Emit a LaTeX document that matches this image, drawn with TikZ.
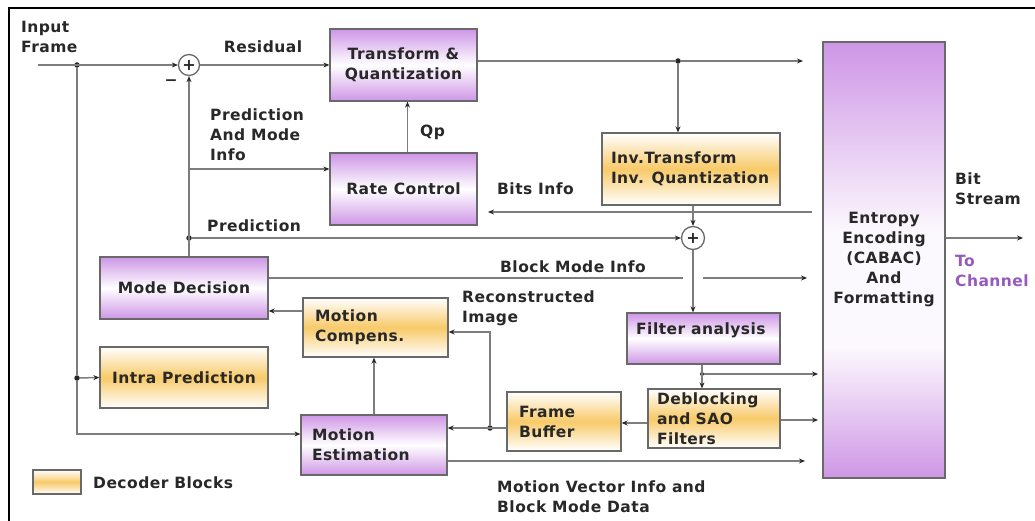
\documentclass[tikz,border=0pt]{standalone}
\usepackage{fontspec}
\setmainfont{DejaVu Sans}[LetterSpace=3]
\usetikzlibrary{arrows.meta,shadings,calc}
\definecolor{purp}{RGB}{206,150,230}
\definecolor{orng}{RGB}{248,202,105}
\definecolor{edge}{RGB}{105,105,105}
\definecolor{wirec}{RGB}{125,125,125}
\definecolor{ink}{RGB}{40,40,40}
\definecolor{chan}{RGB}{150,90,190}
% tall entropy block: purple ends with a wide pale band in the middle
% (the path is mapped onto 25bp..75bp of the shading, bottom to top)
\pgfdeclareverticalshading{entshade}{100bp}{color(0bp)=(purp); color(25bp)=(purp); color(40bp)=(purp!6!white); color(53bp)=(purp!6!white); color(75bp)=(purp); color(100bp)=(purp)}
\begin{document}
\begin{tikzpicture}[x=1pt,y=-1pt,
  txt/.style={font=\bfseries\fontsize{15.5}{20}\selectfont, text=ink, inner sep=0pt},
  encbox/.style={draw=edge, line width=1.3pt, rectangle, top color=purp, bottom color=purp, middle color=white, inner sep=0pt},
  decbox/.style={draw=edge, line width=1.3pt, rectangle, top color=white, bottom color=white, middle color=orng, inner sep=0pt},
  wire/.style={draw=wirec, line width=1.5pt},
  arr/.style={wire, -{Stealth[length=6pt,width=5pt,color=ink]}},
  jdot/.style={circle, fill=ink, inner sep=0pt, minimum size=5.5pt},
  sumnode/.style={circle, draw=edge, line width=1.3pt, fill=white, inner sep=0pt, font=\bfseries\fontsize{16}{16}\selectfont, text=ink}
]
\useasboundingbox (0,0) rectangle (1035,521);
% outer frame (top and left edges)
\draw[black, line width=2pt] (9,521) -- (9,8) -- (1035,8);

% ---- blocks ----
\node[encbox, txt, minimum width=147pt, minimum height=72pt, align=center] (tq) at (403.5,65) {Transform \&\\Quantization};
\node[encbox, txt, minimum width=147pt, minimum height=72pt] (rc) at (403.5,189) {Rate Control};
\node[decbox, txt, minimum width=178pt, minimum height=72pt, text width=160pt, align=left] (inv) at (691,169) {Inv.Transform\\Inv. Quantization};
\node[encbox, txt, minimum width=168pt, minimum height=62pt] (md) at (184,288) {Mode Decision};
\node[decbox, txt, minimum width=168pt, minimum height=61pt] (ip) at (184,377.5) {Intra Prediction};
\node[decbox, txt, minimum width=145pt, minimum height=59pt, text width=121pt, align=left] (mc) at (375.5,327.5) {Motion\\Compens.};
\node[encbox, txt, minimum width=146pt, minimum height=60pt, text width=124pt, align=left] (me) at (374,445) {Motion\\Estimation};
\node[decbox, txt, minimum width=114pt, minimum height=59pt, text width=90pt, align=left] (fb) at (564,421.5) {Frame\\Buffer};
\node[decbox, txt, minimum width=132pt, minimum height=59pt, text width=114pt, align=left] (db) at (714,418.5) {Deblocking\\and SAO\\Filters};
\node[encbox, minimum width=153pt, minimum height=51pt] (fa) at (703.5,338.5) {};
\node[txt, anchor=west] (fatxt) at (636,330) {Filter analysis};
\node[draw=edge, line width=1.3pt, rectangle, shading=entshade, inner sep=0pt, txt, minimum width=122pt, minimum height=436pt, align=center] (ent) at (884,260) {Entropy\\Encoding\\(CABAC)\\And\\Formatting};

\node[sumnode, minimum size=21pt] (s1) at (189,65) {+};
\node[sumnode, minimum size=23pt] (s2) at (693,238) {+};

% ---- junction points ----
\coordinate (in) at (38,65);
\node[jdot] (d0) at (77,65) {};
\node[jdot] (d3) at (77,378) {};
\coordinate (c1) at (77,434);
\node[jdot] (d1) at (189,238) {};
\coordinate (c2) at (189,169);
\node[jdot] (d2) at (678,61) {};
\coordinate (e1) at (803,61);
\coordinate (b0) at (812,212);
\coordinate (b1) at (488,212);
\coordinate (m1) at (683,278);
\coordinate (m2) at (703,278);
\coordinate (m3) at (807,278);
\coordinate (c3) at (300,311);
\node[jdot] (d4) at (490,428) {};
\coordinate (c4) at (490,332);
\coordinate (c5) at (700,423);
\node[jdot, minimum size=4pt] (d5) at (702,374) {};
\coordinate (e5) at (818,374);
\coordinate (e6) at (818,420);
\coordinate (e7) at (805,461);
\coordinate (ob) at (1023,238);

% ---- connectors ----
\draw[arr] (in) -- (s1.west);
\draw[wire] (d0) -- (d3);
\draw[arr] (d3) -- (ip.west);
\draw[arr] (d3) -- (c1) -- (c1 -| me.west);
\draw[arr] (s1.east) -- (tq.west |- s1);
\draw[arr] (md.north -| s1) -- (s1.south);
\draw[arr] (c2) -- (c2 -| rc.west);
\draw[arr] (d1) -- (s2.west);
\draw[arr] ($(rc.north)+(4,0)$) -- ($(tq.south)+(4,0)$);
\draw[wire] (tq.east |- d2) -- (d2);
\draw[arr] (d2) -- (e1);
\draw[arr] (d2) -- (d2 |- inv.north);
\draw[arr] (inv.south -| s2) -- (s2.north);
\draw[arr] (b0) -- (b1);
\draw[arr] (s2.south) -- (s2.south |- fa.north);
\draw[wire] (md.east |- m1) -- (m1);
\draw[arr] (m2) -- (m3);
\draw[arr] (c3 -| mc.west) -- (c3 -| md.east);
\draw[arr] (me.north) -- (me.north |- mc.south);
\draw[arr] (fb.west |- d4) -- (d4 -| me.east);
\draw[arr] (d4) -- (c4) -- (c4 -| mc.east);
\draw[arr] (c5 -| db.west) -- (c5 -| fb.east);
\draw[arr] (d5 |- fa.south) -- (d5 |- db.north);
\draw[arr] (d5) -- (e5);
\draw[arr] (e6 -| db.east) -- (e6);
\draw[arr] (e7 -| me.east) -- (e7);
\draw[arr] (ob -| ent.east) -- (ob);

% ---- labels ----
\node[txt, anchor=west, align=left] (linput) at (21,37) {Input\\Frame};
\node[txt] (lminus) at (171,83) {−};
\node[txt] (lres) at (263,47) {Residual};
\node[txt, anchor=west, align=left] (lpam) at (210,135) {Prediction\\And Mode\\Info};
\node[txt, anchor=west] (lqp) at (420,132) {Qp};
\node[txt, anchor=west] (lbits) at (497,189) {Bits Info};
\node[txt, anchor=west] (lpred) at (207,226) {Prediction};
\node[txt, anchor=west] (lbmi) at (500,267) {Block Mode Info};
\node[txt, anchor=west, align=left] (lrec) at (462,308) {Reconstructed\\Image};
\node[txt, anchor=west, align=left] (lmv) at (497,497) {Motion Vector Info and\\Block Mode Data};
\node[txt, anchor=west, align=left] (lbit) at (955,189) {Bit\\Stream};
\node[txt, anchor=west, align=left, text=chan] (lchan) at (955,271) {To\\Channel};

% ---- legend ----
\node[decbox, minimum width=48pt, minimum height=24pt] (leg) at (57,482) {};
\node[txt, anchor=west] (lleg) at (93,483) {Decoder Blocks};
\end{tikzpicture}
\end{document}
